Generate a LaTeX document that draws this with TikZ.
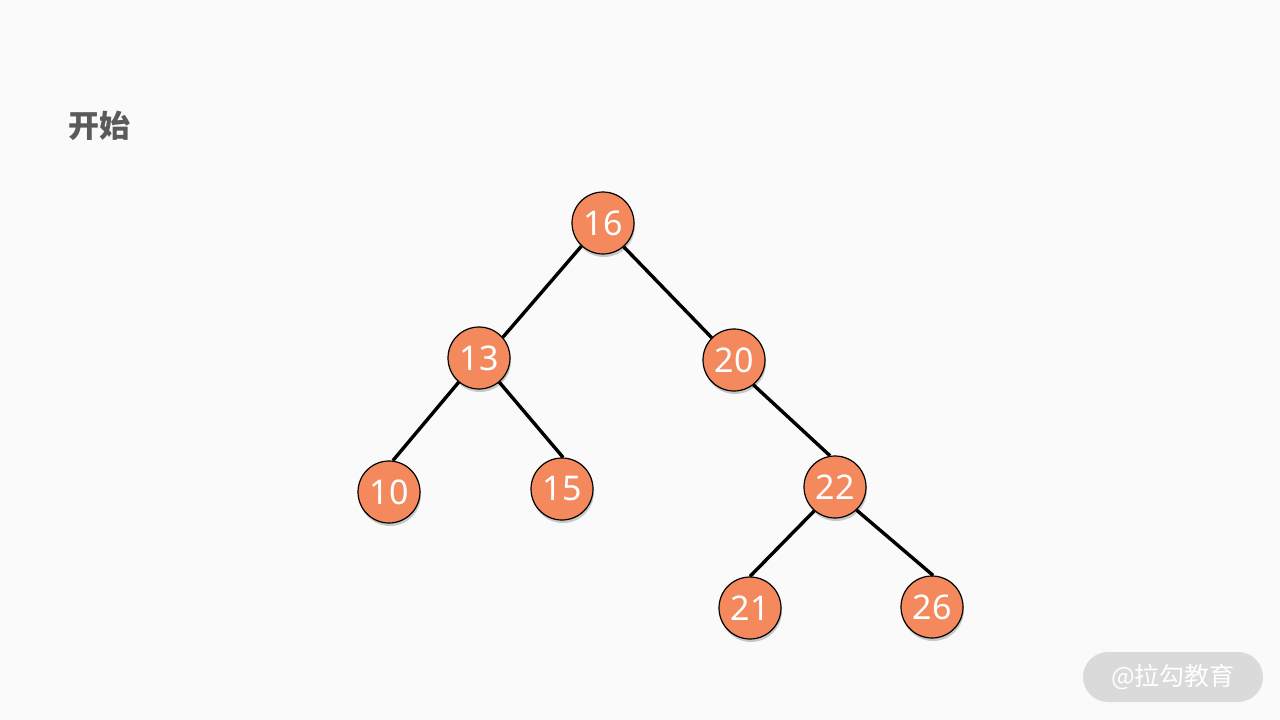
\documentclass[tikz,border=0pt]{standalone}
\usepackage{fontspec}
\setmainfont{Noto Sans}
\newfontfamily\cjk{Noto Sans CJK SC}
\usetikzlibrary{shadows}
\definecolor{bg}{HTML}{FAFAFA}
\definecolor{nodefill}{HTML}{F4895E}
\definecolor{titlegray}{HTML}{5A5A5A}
\definecolor{wmgray}{HTML}{DADADA}
\tikzset{
  tnode/.style={circle, draw=black, line width=1.2pt, fill=nodefill, minimum size=62pt, inner sep=0pt,
    text=white, font=\fontsize{34}{34}\selectfont,
    drop shadow={shadow xshift=1pt, shadow yshift=-3pt, opacity=0.2, fill=black}},
  edge/.style={line width=3.4pt, black}
}
\begin{document}
\begin{tikzpicture}[x=1pt,y=-1pt]
\fill[bg] (0,0) rectangle (1280,720);
\useasboundingbox (0,0) rectangle (1280,720);
\node[font=\cjk\bfseries\fontsize{31}{31}\selectfont, text=titlegray, anchor=west, inner sep=0pt] (title) at (68,126) {开始};
\node[tnode] (n16) at (603,223) {16};
\node[tnode] (n13) at (479,358) {13};
\node[tnode] (n20) at (734,360) {20};
\node[tnode] (n10) at (389,492) {10};
\node[tnode] (n15) at (562,489) {15};
\node[tnode] (n22) at (835,487) {22};
\node[tnode] (n21) at (750,608) {21};
\node[tnode] (n26) at (932,607) {26};
\draw[edge] (n16.-133) -- (n13.41);
\draw[edge] (n16.-49) -- (n20.135);
\draw[edge] (n13.-130) -- (n10.83);
\draw[edge] (n13.-50) -- (n15.88);
\draw[edge] (n20.-52) -- (n22.99);
\draw[edge] (n22.-131) -- (n21.90);
\draw[edge] (n22.-47) -- (n26.88);
\node[fill=wmgray, rounded corners=25pt, minimum width=180pt, minimum height=50pt, inner sep=0pt,
  text=white, font=\cjk\fontsize{25}{25}\selectfont] (wm) at (1173,677) {@拉勾教育};
\end{tikzpicture}
\end{document}
